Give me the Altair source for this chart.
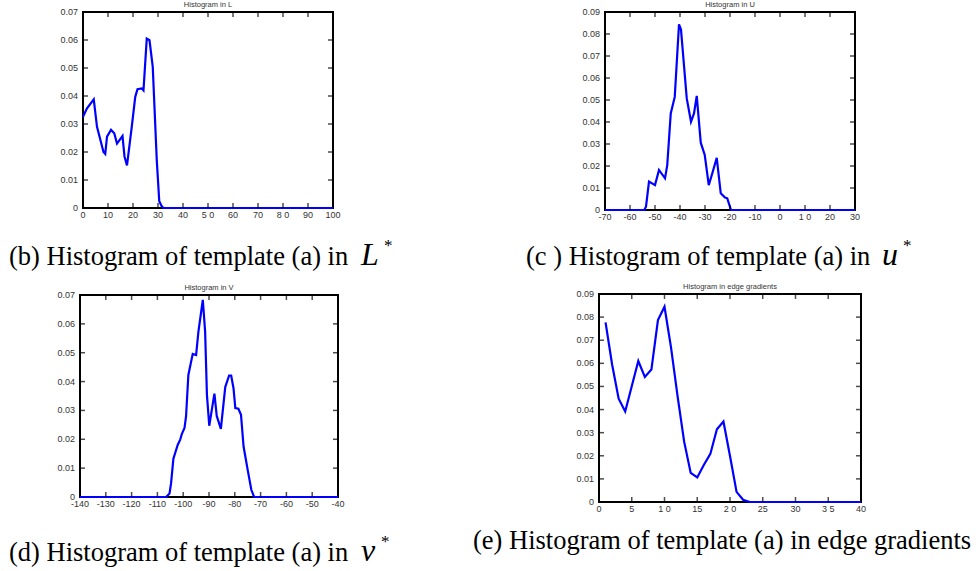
import altair as alt
import pandas as pd

# ---------------- data ----------------
# (b) Histogram in L
l_x = [0, 1.6, 4.3, 5.6, 8.2, 8.9, 9.6, 11.2, 12.5, 13.6, 15.8, 16.6, 17.6, 19.5, 20.9,
       21.8, 23.5, 24.2, 25.5, 26.6, 27.9, 29.5, 30.5, 31.5, 32.2, 100]
l_y = [0.0326, 0.0356, 0.0388, 0.029, 0.020, 0.0193, 0.0255, 0.0279, 0.0267, 0.023,
       0.0257, 0.0184, 0.0152, 0.029, 0.0397, 0.0424, 0.0427, 0.042, 0.0605, 0.0599,
       0.0504, 0.0172, 0.0024, 0.0006, 0.0, 0.0]

# (c) Histogram in U
u_x = [-70, -54.3, -53.6, -52.4, -50, -48.4, -46, -45.1, -43.7, -42.1, -40.4, -39.6,
       -37.3, -35.6, -34.4, -33.3, -31.7, -30.1, -28.5, -27.1, -25.3, -23.7, -22,
       -21.1, -19.6, 30]
u_y = [0.0, 0.0, 0.0015, 0.0129, 0.0113, 0.0182, 0.0144, 0.0204, 0.0439, 0.0514,
       0.0844, 0.082, 0.0507, 0.0401, 0.0439, 0.0519, 0.0306, 0.025, 0.0113, 0.0166,
       0.0237, 0.0076, 0.0057, 0.0053, 0.0, 0.0]

# (d) Histogram in V
v_x = [-140, -106.6, -105.3, -104.7, -103.8, -102.1, -101.2, -100.5, -99.5, -98.9,
       -98, -96.3, -95, -94.1, -92.4, -91.5, -90.8, -89.9, -87.9, -87, -85.4, -83.7,
       -82.2, -81.4, -80.5, -79.8, -78.6, -77.6, -76.6, -74.9, -73.6, -72.5, -40]
v_y = [0.0, 0.0, 0.0012, 0.0048, 0.0133, 0.0181, 0.0198, 0.0219, 0.0239, 0.0279,
       0.0423, 0.0496, 0.0492, 0.0573, 0.0683, 0.0573, 0.0354, 0.0247, 0.0358, 0.0281,
       0.0236, 0.0381, 0.0421, 0.0421, 0.0377, 0.0308, 0.0306, 0.0285, 0.0175, 0.0089,
       0.0025, 0.0, 0.0]

# (e) Histogram in edge gradients
e_x = [1, 2, 3, 4, 5, 6, 7, 8, 9, 10, 11, 12, 13, 14, 15, 16, 17, 18, 19, 20, 21, 22, 23, 40]
e_y = [0.0777, 0.0595, 0.0447, 0.0392, 0.0501, 0.061, 0.0541, 0.0573, 0.0787, 0.0845,
       0.0668, 0.0457, 0.0261, 0.0126, 0.0106, 0.016, 0.0208, 0.0315, 0.0348, 0.0199,
       0.0044, 0.001, 0.0, 0.0]

# tick values and labels
l_xticks = [0, 10, 20, 30, 40, 50, 60, 70, 80, 90, 100]
l_xlabels = ["0", "10", "20", "30", "40", "5 0", "60", "70", "8 0", "90", "100"]
l_yticks = [0, 0.01, 0.02, 0.03, 0.04, 0.05, 0.06, 0.07]
l_ylabels = ["0", "0.01", "0.02", "0.03", "0.04", "0.05", "0.06", "0.07"]

u_xticks = [-70, -60, -50, -40, -30, -20, -10, 0, 10, 20, 30]
u_xlabels = ["-70", "-60", "-50", "-40", "-30", "-20", "-10", "0", "1 0", "20", "30"]
u_yticks = [0, 0.01, 0.02, 0.03, 0.04, 0.05, 0.06, 0.07, 0.08, 0.09]
u_ylabels = ["0", "0.01", "0.02", "0.03", "0.04", "0.05", "0.06", "0.07", "0.08", "0.09"]

v_xticks = [-140, -130, -120, -110, -100, -90, -80, -70, -60, -50, -40]
v_xlabels = ["-140", "-130", "-120", "-110", "-100", "-90", "-80", "-70", "-60", "-50", "-40"]
v_yticks = l_yticks
v_ylabels = l_ylabels

e_xticks = [0, 5, 10, 15, 20, 25, 30, 35, 40]
e_xlabels = ["0", "5", "1 0", "15", "2 0", "25", "30", "3 5", "40"]
e_yticks = u_yticks
e_ylabels = u_ylabels

titles = ["Histogram in L", "Histogram in U", "Histogram in V", "Histogram in edge gradients"]
captions = ["(b) Histogram of template (a) in", "(c ) Histogram of template (a) in",
            "(d) Histogram of template (a) in", "(e) Histogram of template (a) in edge gradients"]
caption_vars = ["L", "u", "v"]

LABEL_FONT = "Liberation Sans"
CAP_FONT = "Liberation Serif"


def panel(px, py, xdom, ydom, xr, yr, xticks, xlabels, yticks, ylabels, title):
    xs = alt.Scale(domain=xdom, range=xr, nice=False, zero=False)
    ys = alt.Scale(domain=ydom, range=yr, nice=False, zero=False)

    def X(f):
        return alt.X(f, type="quantitative", scale=xs, axis=None)

    def Y(f):
        return alt.Y(f, type="quantitative", scale=ys, axis=None)

    frame_df = pd.DataFrame({"x": [xdom[0]], "x2": [xdom[1]], "y": [ydom[0]], "y2": [ydom[1]]})
    frame = alt.Chart(frame_df).mark_rect(fill="white", stroke="black", strokeWidth=2).encode(
        x=X("x"), x2=alt.X2("x2"), y=Y("y"), y2=alt.Y2("y2"))

    line = alt.Chart(pd.DataFrame({"x": px, "y": py})).mark_line(
        color="#0000ff", strokeWidth=2.2).encode(x=X("x"), y=Y("y"))

    xin = xticks[1:-1]
    yin = yticks[1:-1]
    xt_df = pd.DataFrame({"x": xin, "yb": [ydom[0]] * len(xin), "yt": [ydom[1]] * len(xin)})
    yt_df = pd.DataFrame({"y": yin, "xl": [xdom[0]] * len(yin), "xr": [xdom[1]] * len(yin)})
    tb = alt.Chart(xt_df).mark_tick(orient="vertical", size=5, thickness=1.5, color="black",
                                    yOffset=-2.5).encode(x=X("x"), y=Y("yb"))
    tt = alt.Chart(xt_df).mark_tick(orient="vertical", size=5, thickness=1.5, color="black",
                                    yOffset=2.5).encode(x=X("x"), y=Y("yt"))
    tl = alt.Chart(yt_df).mark_tick(orient="horizontal", size=5, thickness=1.5, color="black",
                                    xOffset=2.5).encode(x=X("xl"), y=Y("y"))
    tr = alt.Chart(yt_df).mark_tick(orient="horizontal", size=5, thickness=1.5, color="black",
                                    xOffset=-2.5).encode(x=X("xr"), y=Y("y"))

    xl_df = pd.DataFrame({"x": xticks, "lab": xlabels, "y": [ydom[0]] * len(xticks)})
    yl_df = pd.DataFrame({"y": yticks, "lab": ylabels, "x": [xdom[0]] * len(yticks)})
    xlab = alt.Chart(xl_df).mark_text(baseline="top", align="center", dy=3, fontSize=9,
                                      font=LABEL_FONT, color="#333333").encode(
        x=X("x"), y=Y("y"), text="lab:N")
    ylab = alt.Chart(yl_df).mark_text(baseline="middle", align="right", dx=-5, fontSize=9,
                                      font=LABEL_FONT, color="#333333").encode(
        x=X("x"), y=Y("y"), text="lab:N")

    t_df = pd.DataFrame({"x": [(xdom[0] + xdom[1]) / 2], "y": [ydom[1]], "t": [title]})
    ttl = alt.Chart(t_df).mark_text(baseline="bottom", align="center", dy=-3, fontSize=7.5,
                                    font=LABEL_FONT, color="#333333").encode(
        x=X("x"), y=Y("y"), text="t:N")

    return alt.layer(frame, line, tb, tt, tl, tr, xlab, ylab, ttl)


p1 = panel(l_x, l_y, [0, 100], [0, 0.07], [83, 333], [208, 12],
           l_xticks, l_xlabels, l_yticks, l_ylabels, titles[0])
p2 = panel(u_x, u_y, [-70, 30], [0, 0.09], [605, 855], [210, 12],
           u_xticks, u_xlabels, u_yticks, u_ylabels, titles[1])
p3 = panel(v_x, v_y, [-140, -40], [0, 0.07], [80, 338], [497, 295],
           v_xticks, v_xlabels, v_yticks, v_ylabels, titles[2])
p4 = panel(e_x, e_y, [0, 40], [0, 0.09], [599, 861], [502, 294],
           e_xticks, e_xlabels, e_yticks, e_ylabels, titles[3])


def text_layer(txt, x, y, size, style="normal"):
    return alt.Chart(pd.DataFrame({"t": [txt]})).mark_text(
        align="left", baseline="alphabetic", fontSize=size, font=CAP_FONT,
        fontStyle=style, color="black").encode(
        x=alt.value(x), y=alt.value(y), text="t:N")


CS = 26.5
caps = [
    text_layer(captions[0], 9, 265, CS),
    text_layer(caption_vars[0], 361, 265, 32, "italic"),
    text_layer("*", 384, 251, 17),
    text_layer(captions[1], 526, 265, CS),
    text_layer(caption_vars[1], 882, 265, 32, "italic"),
    text_layer("*", 903, 251, 17),
    text_layer(captions[2], 9, 561, CS),
    text_layer(caption_vars[2], 361, 561, 32, "italic"),
    text_layer("*", 381, 547, 17),
    text_layer(captions[3], 473, 549, CS),
]

chart = alt.layer(p1, p2, p3, p4, *caps).resolve_scale(
    x="independent", y="independent"
).properties(
    width=977, height=571, padding=0,
    autosize=alt.AutoSizeParams(type="none"),
).configure_view(stroke=None)

chart.save("out.html", embed_options={"renderer": "svg", "actions": False})
